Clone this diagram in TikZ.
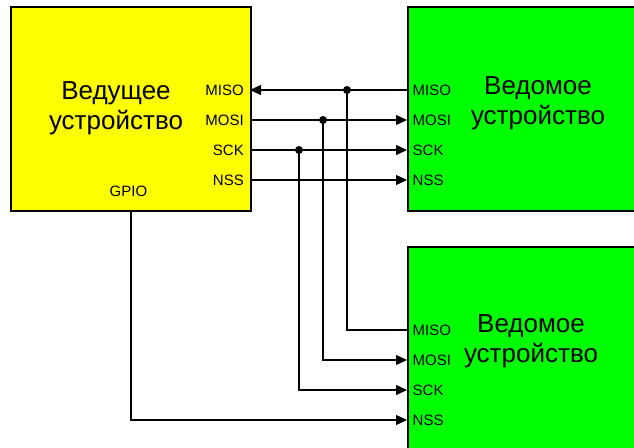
\documentclass[tikz,border=0pt]{standalone}
\usepackage{fontspec}
\setmainfont{Liberation Sans}
\usetikzlibrary{positioning,arrows.meta}
\definecolor{masteryellow}{RGB}{255,255,0}
\definecolor{slavegreen}{RGB}{0,255,0}

\begin{document}
\begin{tikzpicture}[x=1pt, y=-1pt,
    devbox/.style={draw, line width=1.5pt, anchor=north west, inner sep=0pt},
    devlbl/.style={inner sep=0pt, align=center, font=\fontsize{26}{30}\selectfont},
    pinlbl/.style={inner sep=0pt, font=\fontsize{15}{17}\selectfont},
    wire/.style={line width=1.3pt},
    sig/.style={wire, -{Triangle[length=11pt,width=10pt]}},
    junc/.style={circle, fill, inner sep=0pt, minimum size=8pt}]
    \useasboundingbox (0,0) rectangle (634,447);
    \clip (0,0) rectangle (634,447);

    % devices
    \node[devbox, fill=masteryellow, minimum width=240pt, minimum height=204pt] (master) at (10,6) {};
    \node[devbox, fill=slavegreen, minimum width=260pt, minimum height=204pt] (slave1) at (407,6) {};
    \node[devbox, fill=slavegreen, minimum width=260pt, minimum height=230pt] (slave2) at (407,246) {};

    \node[devlbl] (master-txt) at (116,108.5) {Ведущее\\устройство};
    \node[devlbl] (slave1-txt) at (538,103) {Ведомое\\устройство};
    \node[devlbl] (slave2-txt) at (531,341) {Ведомое\\устройство};

    % pins
    \foreach \p/\t/\y in {miso/MISO/90, mosi/MOSI/120, sck/SCK/150, nss/NSS/180} {
        \coordinate (m-\p) at (250,\y);
        \coordinate (s1-\p) at (407,\y);
        \coordinate (s2-\p) at (407,\y+240);
        \node[pinlbl, left=6pt of m-\p] (m-\p-lbl) {\t};
        \node[pinlbl, right=5.5pt of s1-\p] (s1-\p-lbl) {\t};
        \node[pinlbl, right=5.5pt of s2-\p] (s2-\p-lbl) {\t};
    }
    \coordinate (m-gpio) at (131,210);
    \node[pinlbl] (m-gpio-lbl) at (128.5,191) {GPIO};

    % bus to first slave
    \draw[sig] (s1-miso) -- (m-miso);
    \draw[sig] (m-mosi) -- (s1-mosi);
    \draw[sig] (m-sck) -- (s1-sck);
    \draw[sig] (m-nss) -- (s1-nss);

    % branches to second slave
    \coordinate (j-miso) at (347,90);
    \coordinate (j-mosi) at (323,120);
    \coordinate (j-sck) at (299,150);
    \draw[wire] (j-miso) |- (s2-miso);
    \draw[sig] (j-mosi) |- (s2-mosi);
    \draw[sig] (j-sck) |- (s2-sck);
    \draw[sig] (m-gpio) |- (s2-nss);

    \node[junc] (jd-miso) at (j-miso) {};
    \node[junc] (jd-mosi) at (j-mosi) {};
    \node[junc] (jd-sck) at (j-sck) {};
\end{tikzpicture}
\end{document}
